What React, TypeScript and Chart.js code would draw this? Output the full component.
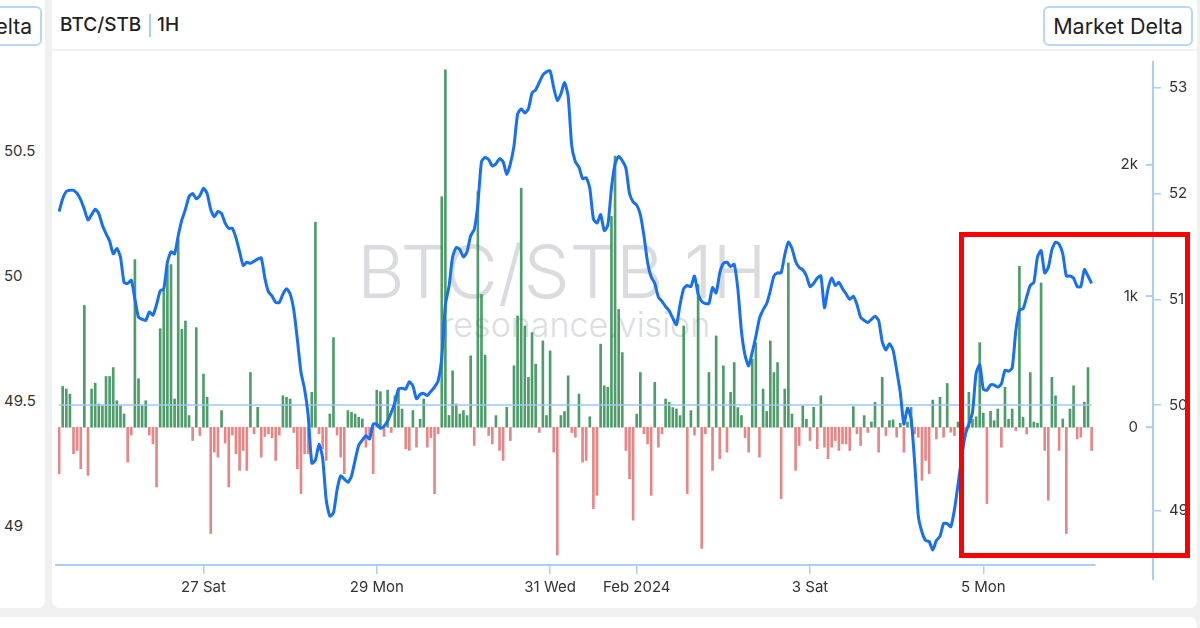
import React, { useEffect, useRef } from 'react';
import { Chart, registerables } from 'chart.js';

Chart.register(...registerables);

// Hour index 0 = 25 Jan 08:00 (1H candles)
const xTickHours = [40, 88, 136, 160, 208, 256];
const xTickLabels = ['27 Sat', '29 Mon', '31 Wed', 'Feb 2024', '3 Sat', '5 Mon'];
const priceTicks = [49, 50, 51, 52, 53];
const deltaTickValues = [0, 1000, 2000];
const deltaTickLabels = ['0', '1k', '2k'];
const leftPanelTicks = [50.5, 50, 49.5, 49];
const leftPanelLabels = ['50.5', '50', '49.5', '49'];
const referencePrice = 50;

const priceValues = [
  51.83, 51.95, 52.02, 52.03, 52.03, 52.0, 51.94, 51.85, 51.75, 51.8,
  51.85, 51.81, 51.7, 51.62, 51.55, 51.43, 51.48, 51.4, 51.16, 51.15,
  51.18, 51.0, 50.83, 50.81, 50.8, 50.88, 50.85, 50.95, 51.08, 51.1,
  51.35, 51.45, 51.43, 51.6, 51.75, 51.85, 51.97, 52.0, 51.95, 51.98,
  52.05, 52.0, 51.85, 51.78, 51.83, 51.81, 51.72, 51.67, 51.67, 51.58,
  51.45, 51.32, 51.35, 51.34, 51.36, 51.38, 51.39, 51.2, 51.07, 51.03,
  50.97, 50.97, 51.05, 51.1, 51.05, 50.9, 50.62, 50.31, 50.15, 49.9,
  49.45, 49.48, 49.63, 49.5, 49.1, 48.95, 48.98, 49.2, 49.33, 49.3,
  49.27, 49.33, 49.48, 49.62, 49.67, 49.71, 49.68, 49.82, 49.82, 49.78,
  49.8, 49.85, 49.93, 50.02, 50.15, 50.16, 50.15, 50.22, 50.18, 50.06,
  50.1, 50.11, 50.09, 50.13, 50.17, 50.23, 50.45, 50.95, 51.12, 51.4,
  51.49, 51.47, 51.4, 51.45, 51.6, 51.66, 51.9, 52.3, 52.34, 52.32,
  52.26, 52.28, 52.33, 52.3, 52.18, 52.28, 52.45, 52.75, 52.8, 52.76,
  52.8, 52.95, 52.98, 53.05, 53.12, 53.15, 53.16, 53.0, 52.88, 52.94,
  53.05, 52.92, 52.45, 52.3, 52.25, 52.14, 52.15, 52.05, 51.76, 51.72,
  51.8, 51.65, 51.7, 52.05, 52.28, 52.35, 52.31, 52.24, 52.0, 51.92,
  51.89, 51.8, 51.6, 51.35, 51.21, 51.15, 51.02, 50.98, 50.93, 50.89,
  50.82, 50.76, 50.95, 51.1, 51.13, 51.12, 51.22, 51.05, 50.98, 50.96,
  50.96, 51.11, 51.06, 51.25, 51.34, 51.35, 51.31, 51.33, 51.1, 50.7,
  50.47, 50.37, 50.5, 50.65, 50.82, 50.9, 50.96, 51.08, 51.22, 51.25,
  51.25, 51.42, 51.54, 51.48, 51.36, 51.3, 51.28, 51.22, 51.12, 51.15,
  51.2, 51.22, 50.92, 51.1, 51.2, 51.13, 51.16, 51.1, 51.05, 51.0,
  51.03, 50.95, 50.83, 50.8, 50.78, 50.81, 50.84, 50.8, 50.6, 50.52,
  50.58, 50.52, 50.33, 50.12, 49.82, 49.97, 49.87, 49.45, 48.95, 48.8,
  48.72, 48.71, 48.63, 48.72, 48.76, 48.88, 48.88, 48.85, 49.01, 49.25,
  49.5, 49.72, 49.82, 49.93, 50.3, 50.38, 50.15, 50.14, 50.19, 50.19,
  50.17, 50.2, 50.33, 50.32, 50.35, 50.7, 50.9, 50.91, 51.02, 51.13,
  51.16, 51.4, 51.46, 51.25, 51.3, 51.47, 51.54, 51.52, 51.43, 51.22,
  51.22, 51.2, 51.12, 51.12, 51.28, 51.22, 51.15,
];

const deltaValues = [
  -354, 311, 291, 253, -202, -177, -316, 928, -367, 291,
  336, 177, 164, 387, 387, 455, 202, 164, 101, -266,
  -60, 1278, 370, 164, 202, -60, -127, -455, 751, 1050,
  1232, 1240, 215, 1430, 746, 810, 89, -101, 759, -63,
  405, 228, -810, -190, -228, 127, -121, -455, -60, -202,
  -329, -177, -329, 417, -50, 152, -228, -70, -50, -80,
  -253, -60, 240, 228, 215, -40, -316, -506, -202, -202,
  266, 1563, -50, -164, -253, 101, 683, -60, -228, -354,
  127, 114, 101, 76, 63, -152, -90, -354, 283, 271,
  -70, 283, -40, 240, 291, 139, -164, -177, 127, -152,
  60, 215, -152, -80, -506, -50, 1758, 2725, 90, 430,
  177, 101, 127, 89, 544, -139, 1796, 1012, 550, -63,
  -127, 89, -177, -253, 152, -101, 468, 848, 1822, 772,
  380, 721, 481, -40, 658, 89, 582, -190, -974, 89,
  120, 392, -40, -76, 253, -266, -253, 80, -620, -519,
  633, 316, 304, 1607, 2067, 898, 569, -177, -392, -708,
  100, 417, -50, -127, -519, 342, -152, -50, 215, 190,
  150, 139, 89, 772, -506, 127, -60, 1088, -923, -50,
  417, -329, 696, -240, 468, -190, 266, 493, 150, 89,
  -80, -190, 519, 645, -228, 291, 120, 658, 417, 493,
  -544, 291, 1252, 100, -329, -139, 164, 60, -101, 152,
  -164, 240, -152, -240, -152, -101, -177, -127, -127, -177,
  157, -50, -139, 89, -40, 40, 190, -190, 380, -63,
  50, 56, -76, 30, -190, 40, 152, -51, -76, -405,
  -253, -354, 207, -89, 228, -76, 334, -38, -63, 40,
  329, -76, 266, 60, 80, 645, 106, -582, 121, 50,
  139, -152, 304, 60, 139, -25, 1227, 76, -51, 417,
  40, 30, 1100, -177, -557, 380, 240, -177, 63, -810,
  139, 316, -89, -76, 190, 455, -177,
];

const AXIS_COLOR = '#a9cff4';
const TEXT_COLOR = '#333333';
const FONT = 'Inter, "Noto Sans", sans-serif';

export default function App() {
  const canvasRef = useRef<HTMLCanvasElement | null>(null);

  useEffect(() => {
    const canvas = canvasRef.current;
    if (!canvas) return;

    const overlay = {
      id: 'overlay',
      beforeDatasetsDraw(chart: any) {
        const { ctx, chartArea, scales } = chart;
        const xs = scales.x;
        const y1 = scales.y1;
        const y2 = scales.y2;
        ctx.save();
        ctx.strokeStyle = AXIS_COLOR;
        ctx.lineWidth = 2;
        ctx.beginPath();
        ctx.moveTo(chartArea.left - 3, chartArea.bottom);
        ctx.lineTo(xs.getPixelForValue(priceValues.length - 1) + 4, chartArea.bottom);
        ctx.stroke();
        const ax = y2.left;
        ctx.beginPath();
        ctx.moveTo(ax, chartArea.bottom);
        ctx.lineTo(ax, chartArea.bottom + 15);
        ctx.stroke();
        ctx.fillStyle = TEXT_COLOR;
        ctx.font = '15px ' + FONT;
        ctx.textAlign = 'right';
        ctx.textBaseline = 'middle';
        deltaTickValues.forEach((v, k) => {
          const py = y1.getPixelForValue(v);
          ctx.beginPath();
          ctx.moveTo(ax - 7, py);
          ctx.lineTo(ax, py);
          ctx.stroke();
          ctx.fillText(deltaTickLabels[k], ax - 15, py);
        });
        ctx.restore();
      },
    };

    const chart = new Chart(canvas, {
      type: 'bar',
      data: {
        datasets: [
          {
            type: 'line',
            data: priceValues.map((v, i) => ({ x: i, y: v })),
            yAxisID: 'y2',
            borderColor: '#1670f0',
            borderWidth: 3,
            pointRadius: 0,
            tension: 0.2,
            order: 0,
          } as any,
          {
            type: 'line',
            data: priceValues.map((_, i) => ({ x: i, y: referencePrice })),
            yAxisID: 'y2',
            borderColor: '#9fc8f3',
            borderWidth: 1.5,
            pointRadius: 0,
            order: 1,
          } as any,
          {
            type: 'bar',
            data: deltaValues.map((v, i) => ({ x: i, y: v })),
            yAxisID: 'y1',
            backgroundColor: deltaValues.map((v) => (v >= 0 ? 'rgba(46,139,80,0.85)' : 'rgba(224,100,100,0.78)')),
            barThickness: 2,
            order: 2,
          } as any,
        ],
      },
      options: {
        animation: false,
        responsive: false,
        maintainAspectRatio: false,
        layout: { padding: { left: 6, top: 1, right: 0, bottom: 0 } },
        plugins: { legend: { display: false }, tooltip: { enabled: false } },
        scales: {
          x: {
            type: 'linear',
            offset: false,
            min: -0.3,
            max: 303,
            afterBuildTicks: (s: any) => {
              s.ticks = xTickHours.map((v) => ({ value: v }));
            },
            afterFit: (s: any) => {
              s.height = 40;
            },
            ticks: {
              autoSkip: false,
              maxRotation: 0,
              color: TEXT_COLOR,
              font: { size: 15, family: FONT },
              padding: 4,
              callback: (v: any) => {
                const k = xTickHours.indexOf(Number(v));
                return k >= 0 ? xTickLabels[k] : '';
              },
            },
            grid: {
              offset: false,
              drawOnChartArea: false,
              drawTicks: true,
              tickLength: 9,
              color: AXIS_COLOR,
              lineWidth: 1.5,
            },
            border: { display: false },
          },
          y1: {
            type: 'linear',
            display: false,
            position: 'right',
            min: -1050,
            max: 2784,
          },
          y2: {
            type: 'linear',
            position: 'right',
            min: 48.488,
            max: 53.243,
            afterBuildTicks: (s: any) => {
              s.ticks = priceTicks.map((v) => ({ value: v }));
            },
            afterFit: (s: any) => {
              s.width = 42;
            },
            ticks: {
              color: TEXT_COLOR,
              font: { size: 15, family: FONT },
              padding: 8,
              callback: (v: any) => String(v),
            },
            grid: { drawOnChartArea: false, drawTicks: true, tickLength: 8, color: AXIS_COLOR, lineWidth: 1.5 },
            border: { display: true, color: AXIS_COLOR, width: 2 },
          },
        },
      } as any,
      plugins: [overlay],
    });

    return () => chart.destroy();
  }, []);

  const leftLabelY = (v: number) => 276 - (v - 50) * 250;

  return (
    <div
      style={{
        position: 'fixed',
        left: 0,
        top: 0,
        width: 1200,
        height: 628,
        overflow: 'hidden',
        background: '#eff0f2',
        fontFamily: FONT,
      }}
    >
      {/* left neighbour panel */}
      <div style={{ position: 'absolute', left: -12, top: -12, width: 57, height: 620, background: '#fff', borderRadius: 8 }} />
      {/* main panel */}
      <div style={{ position: 'absolute', left: 52, top: -12, width: 1145, height: 620, background: '#fff', borderRadius: 8 }} />
      {/* bottom neighbour panel */}
      <div style={{ position: 'absolute', left: -12, top: 617, width: 1209, height: 40, background: '#fff', borderRadius: 8 }} />
      {/* header separator */}
      <div style={{ position: 'absolute', left: 52, top: 49, width: 1145, height: 2, background: '#f0f1f3' }} />

      {/* partially visible button of left panel */}
      <div
        style={{
          position: 'absolute',
          left: -40,
          top: 6,
          width: 82,
          height: 40,
          boxSizing: 'border-box',
          border: '2px solid #b8d6f5',
          borderRadius: 6,
          background: '#fff',
          display: 'flex',
          alignItems: 'center',
          justifyContent: 'flex-end',
          paddingRight: 8,
          fontSize: 21,
          color: '#222',
        }}
      >
        Delta
      </div>

      {/* header */}
      <div style={{ position: 'absolute', left: 60, top: 14, lineHeight: '22px', fontSize: 19, fontWeight: 500, color: '#222' }}>
        BTC/STB
      </div>
      <div style={{ position: 'absolute', left: 149, top: 14, width: 2, height: 23, background: '#a9cff4' }} />
      <div style={{ position: 'absolute', left: 157, top: 14, lineHeight: '22px', fontSize: 19, fontWeight: 500, color: '#222' }}>
        1H
      </div>

      <div
        style={{
          position: 'absolute',
          left: 1043,
          top: 6,
          width: 150,
          height: 40,
          boxSizing: 'border-box',
          border: '2px solid #b8d6f5',
          borderRadius: 6,
          background: '#fff',
          display: 'flex',
          alignItems: 'center',
          justifyContent: 'center',
          fontSize: 21.5,
          color: '#222',
        }}
      >
        Market Delta
      </div>

      {/* left panel axis labels */}
      {leftPanelTicks.map((v, k) => (
        <div
          key={k}
          style={{ position: 'absolute', left: 4, top: leftLabelY(v) - 10, lineHeight: '20px', fontSize: 15, color: TEXT_COLOR }}
        >
          {leftPanelLabels[k]}
        </div>
      ))}

      {/* watermark */}
      <div
        style={{
          position: 'absolute',
          left: 262,
          width: 600,
          top: 228,
          textAlign: 'center',
          fontSize: 73,
          fontWeight: 300,
          lineHeight: '88px',
          color: '#d9dbdf',
          whiteSpace: 'nowrap',
        }}
      >
        BTC/STB 1H
      </div>
      <div
        style={{
          position: 'absolute',
          left: 276,
          width: 600,
          top: 304,
          textAlign: 'center',
          fontSize: 34,
          fontWeight: 300,
          lineHeight: '42px',
          color: '#dbdde1',
          whiteSpace: 'nowrap',
        }}
      >
        resonance.vision
      </div>

      <canvas
        ref={canvasRef}
        width={1143}
        height={560}
        style={{ position: 'absolute', left: 52, top: 45, width: 1143, height: 560 }}
      />

      {/* annotation box */}
      <div
        style={{
          position: 'absolute',
          left: 959,
          top: 232,
          width: 231,
          height: 326,
          boxSizing: 'border-box',
          border: '5px solid #ff0000',
        }}
      />
    </div>
  );
}
